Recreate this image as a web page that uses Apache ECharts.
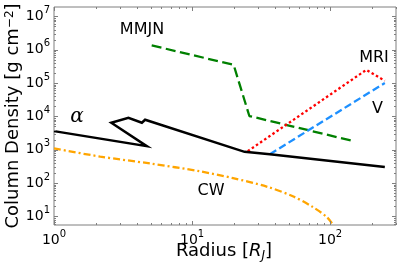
<!DOCTYPE html>
<html><head><meta charset="utf-8">
<script src="https://cdn.jsdelivr.net/npm/echarts@6/dist/echarts.min.js"></script>
<style>html,body{margin:0;padding:0;background:#fff;}#c{width:399px;height:268px;}</style>
</head><body><div id="c"></div>
<script>
// ---- data ----
const alphaData = [[1,3600],[4.7,1270],[2.6,6400],[3.46,9080],[4.33,6400],[4.57,7900],[24,860],[36.6,731],[249,303]];
const mmjnData  = [[5.1,1.34e6],[20,3.5e5],[26,1.02e4],[145,1840]];
const mriData   = [[25.3,900],[183,2.48e5],[249,1.16e5]];
const vData     = [[36.6,731],[249,1.0e5]];
const cwData    = [[1,1090],[2.16,620],[4.97,385],[11.4,224],[19.8,140],[34.7,78],[53.7,40],[75,19],[94.7,9.5],[106,5.3]];
const xTicks = [1,10,100];
const xTickExp = ['0','1','2'];
const yTicks = [10,1e2,1e3,1e4,1e5,1e6,1e7];
const yTickExp = ['1','2','3','4','5','6','7'];
const xRange = [1,300];
const yRange = [5.5,1.9e7];

const FONT = 'DejaVu Sans';
const AX = '#7f7f7f';

function expLabel(v, ticks, exps){
  for (let i=0;i<ticks.length;i++){ if (Math.abs(Math.log10(v)-Math.log10(ticks[i]))<1e-6) return '{b|10}{s|'+exps[i]+'}'; }
  return '';
}
const tickRich = {
  b:{fontSize:14,lineHeight:22,fontFamily:FONT,color:'#000'},
  s:{fontSize:10,lineHeight:10,verticalAlign:'top',fontFamily:FONT,color:'#000'}
};

function minorList(lo, hi){
  const out=[];
  for(let e=-1;e<=8;e++){ for(let k=1;k<=9;k++){ const v=k*Math.pow(10,e); if(v>=lo*0.9999 && v<=hi*1.0001) out.push([v,k===1]); } }
  return out;
}
const xTickVals = minorList(xRange[0], xRange[1]);
const yTickVals = minorList(yRange[0], yRange[1]);

function renderTicks(params, api){
  const cs = params.coordSys;
  const L=cs.x, R=cs.x+cs.width, T=cs.y, B=cs.y+cs.height;
  const st={stroke:AX,lineWidth:1};
  const ch=[];
  xTickVals.forEach(([v,maj])=>{
    const p=Math.round(api.coord([v,100])[0])+0.5; const len=maj?4:2;
    ch.push({type:'line',shape:{x1:p,y1:B,x2:p,y2:B-len},style:st});
    ch.push({type:'line',shape:{x1:p,y1:T,x2:p,y2:T+len},style:st});
  });
  yTickVals.forEach(([v,maj])=>{
    const p=Math.round(api.coord([10,v])[1])+0.5; const len=maj?4:2;
    ch.push({type:'line',shape:{x1:L,y1:p,x2:L+len,y2:p},style:st});
    ch.push({type:'line',shape:{x1:R,y1:p,x2:R-len,y2:p},style:st});
  });
  return {type:'group',children:ch,silent:true};
}

const chart = echarts.init(document.getElementById('c'), null, {renderer:'canvas'});
chart.setOption({
  animation:false,
  backgroundColor:'#fff',
  grid:{left:54,right:3,top:7,bottom:43,show:true,borderColor:AX,borderWidth:1,containLabel:false},
  xAxis:{type:'log',logBase:10,min:xRange[0],max:xRange[1],splitNumber:3,
    axisLine:{show:false},axisTick:{show:false},splitLine:{show:false},minorTick:{show:false},
    axisLabel:{margin:4,showMinLabel:true,showMaxLabel:false,formatter:(v)=>expLabel(v,xTicks,xTickExp),rich:tickRich}},
  yAxis:{type:'log',logBase:10,min:yRange[0],max:yRange[1],splitNumber:7,
    axisLine:{show:false},axisTick:{show:false},splitLine:{show:false},
    axisLabel:{margin:4,showMinLabel:false,showMaxLabel:false,formatter:(v)=>expLabel(v,yTicks,yTickExp),rich:tickRich}},
  series:[
    {type:'line',data:cwData,smooth:0.3,symbol:'none',lineStyle:{color:'#ffa500',width:2.3,type:[7,3,2,3]},z:2},
    {type:'line',data:mmjnData,symbol:'none',lineStyle:{color:'#008000',width:2.3,type:[10,4.5]},z:3},
    {type:'line',data:mriData,symbol:'none',lineStyle:{color:'#ff0000',width:2.3,type:[2.5,2.5]},z:3},
    {type:'line',data:vData,symbol:'none',lineStyle:{color:'#1e90ff',width:2.3,type:[7.5,3.5]},z:3},
    {type:'line',data:alphaData,symbol:'none',lineStyle:{color:'#000',width:2.5,join:'miter'},z:4},
    {type:'custom',data:[[10,100]],renderItem:renderTicks,silent:true,z:10,clip:false}
  ],
  graphic:[
    {type:'text',x:142,y:30,style:{text:'MMJN',font:'16px "DejaVu Sans"',fill:'#000',align:'center',verticalAlign:'middle'}},
    {type:'text',x:374,y:58,style:{text:'MRI',font:'16px "DejaVu Sans"',fill:'#000',align:'center',verticalAlign:'middle'}},
    {type:'text',x:377.5,y:109,style:{text:'V',font:'16px "DejaVu Sans"',fill:'#000',align:'center',verticalAlign:'middle'}},
    {type:'text',x:211,y:191,style:{text:'CW',font:'16px "DejaVu Sans"',fill:'#000',align:'center',verticalAlign:'middle'}},
    {type:'text',x:77,y:117,style:{text:'α',font:'italic 20px "DejaVu Serif"',fill:'#000',align:'center',verticalAlign:'middle'}},
    {type:'text',x:224,y:251,style:{text:'Radius [{i|R}{sub|J}]',fontSize:18,fontFamily:FONT,fill:'#000',align:'center',verticalAlign:'middle',
      rich:{i:{fontSize:18,fontStyle:'italic',fontFamily:FONT,lineHeight:22},sub:{fontSize:12,fontStyle:'italic',fontFamily:FONT,lineHeight:12,verticalAlign:'bottom'}}}},
    {type:'text',x:13,y:116,rotation:Math.PI/2,style:{text:'Column Density [g cm{sup|−2}]',fontSize:18,fontFamily:FONT,fill:'#000',align:'center',verticalAlign:'middle',
      rich:{sup:{fontSize:12,fontFamily:FONT,lineHeight:12,verticalAlign:'top'}}}}
  ]
});
</script></body></html>
